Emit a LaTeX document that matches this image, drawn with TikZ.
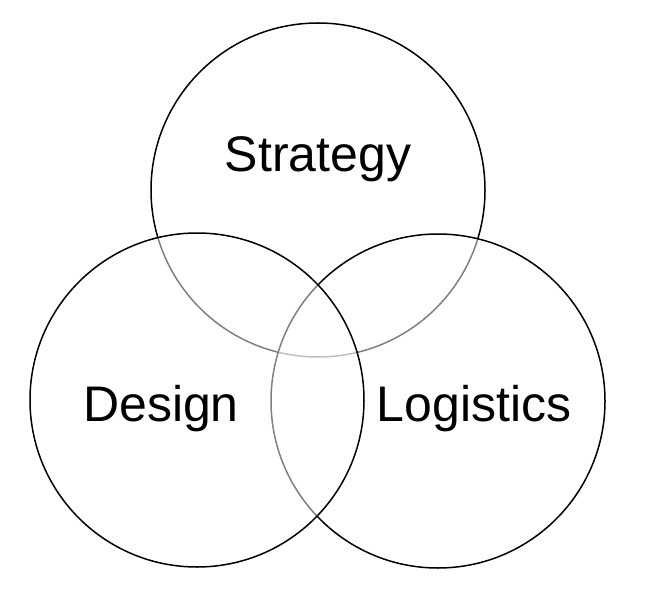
\documentclass[tikz,border=0pt]{standalone}
\usepackage{fontspec}
\setsansfont{Liberation Sans}
\usepackage{tikz}
\tikzset{
  setcircle/.style={circle, draw=black, line width=1.5pt, fill=white,
                    fill opacity=0.5, minimum size=334pt, inner sep=0pt},
  setlabel/.style={font=\fontsize{50}{54}\selectfont\sffamily, inner sep=0pt},
}

\begin{document}
\begin{tikzpicture}[x=1pt, y=1pt]
  \useasboundingbox (0,0) rectangle (647,598);
  % circles, drawn in this order so the overlaps shade the lines beneath
  \node[setcircle] (strategy)  at (318,408) {};
  \node[setcircle] (logistics) at (438,197) {};
  \node[setcircle] (design)    at (197,198) {};
  % labels
  \node[setlabel] (strategytext)  at (318,439) {Strategy};
  \node[setlabel] (logisticstext) at (474,189) {Logistics};
  \node[setlabel] (designtext)    at (161,189) {Design};
\end{tikzpicture}
\end{document}
